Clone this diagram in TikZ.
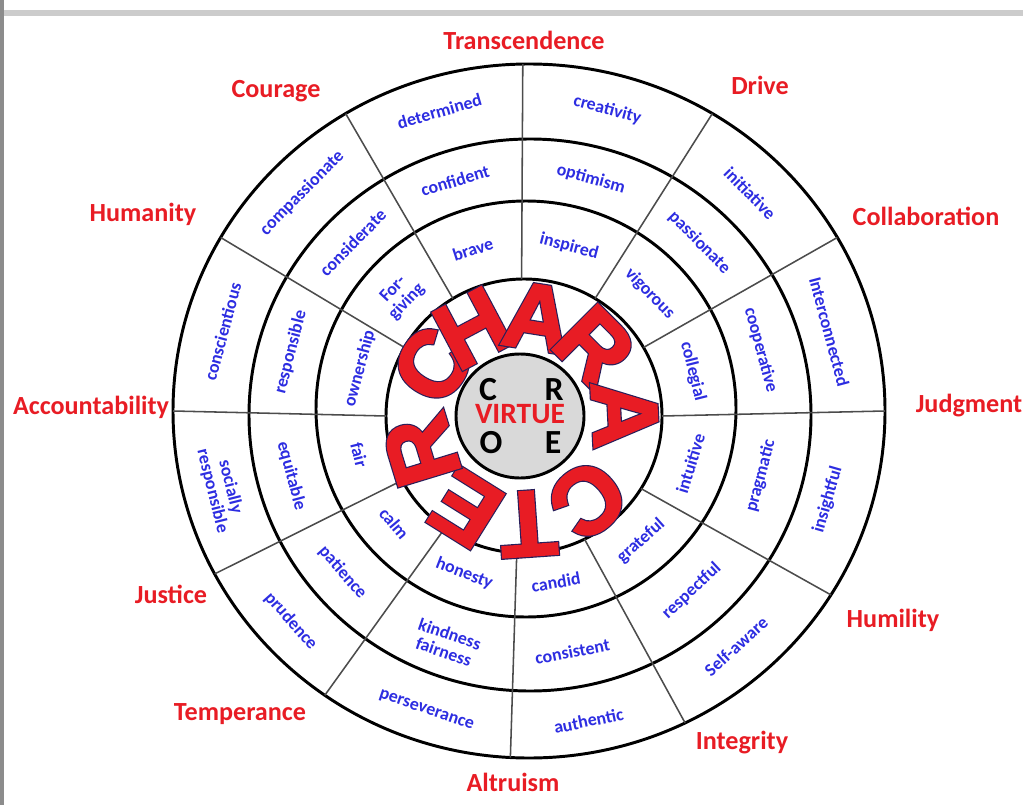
\documentclass[tikz,border=0pt]{standalone}
\usepackage{fontspec}
\setmainfont{Carlito}
\newfontfamily\chred[FakeBold=2.5]{Liberation Sans Bold}
\newfontfamily\chnavy[FakeBold=5]{Liberation Sans Bold}
\usetikzlibrary{calc}
\definecolor{vred}{RGB}{232,28,36}
\definecolor{vblue}{RGB}{45,45,225}
\definecolor{vnavy}{RGB}{40,30,90}
\tikzset{
  ringline/.style={line width=2.1pt},
  divline/.style={line width=1.1pt,draw=black!70},
  virtue/.style={text=vred,font=\fontsize{18.6}{20}\selectfont\bfseries,anchor=base,inner sep=0pt},
  trait/.style={text=vblue,font=\fontsize{12.7}{13.2}\selectfont\bfseries,align=center,inner sep=0pt},
  chletter/.style={font=\fontsize{66}{66}\selectfont\chred,text=vred,inner sep=0pt},
  chshade/.style={font=\fontsize{66}{66}\selectfont\chnavy,text=vnavy,inner sep=0pt},
  core/.style={font=\fontsize{24}{24}\selectfont\bfseries,inner sep=0pt},
}
\begin{document}
\begin{tikzpicture}[x=0.025cm,y=0.025cm]
  \useasboundingbox (0,0) rectangle (1023,805);
  % frame
  \fill[black!45] (0,0) rectangle (4,805);
  \fill[black!20] (4,789) rectangle (1023,795);
  % centres
  \coordinate (o) at (526,392);
  \coordinate (co) at (529,394);
  \coordinate (c2) at (530,390);
  \coordinate (c3) at (526,396);
  \coordinate (cr) at (524,389);
  \coordinate (cg) at (520,389);
  \coordinate (lc) at (521,385);
  % rings
  \draw[ringline] (co) ellipse [x radius=356, y radius=347];
  \draw[ringline] (c2) ellipse [x radius=281, y radius=276];
  \draw[ringline] (c3) ellipse [x radius=210, y radius=208];
  \draw[ringline] (cr) ellipse [x radius=138, y radius=137];
  \draw[ringline,fill=black!15] (cg) ellipse [x radius=64, y radius=62];
  \foreach \a in {0,30,59,91,121,150,180,208,235,267,296,328}
    \draw[divline] ($(cr)+(\a:138 and 137)$) -- ($(co)+(\a:356 and 347)$);
  % outer ring
  \foreach \a/\w [count=\i] in {15/Interconnected,44.5/initiative,75/creativity,106/determined,
      135.5/compassionate,165/conscientious,194/{socially\\responsible},221.5/prudence,
      251.5/perseverance,281.5/authentic,312/Self-aware,344/insightful}{
    \pgfmathsetmacro\rot{ifthenelse(\a<180,\a-90,\a+90)}
    \node[trait,rotate=\rot] (out\i) at ($(o)+(\a:314)$) {\w};
  }
  % middle ring
  \foreach \a/\w [count=\i] in {15/cooperative,44.5/passionate,74.5/optimism,107/confident,
      135.5/considerate,165.5/responsible,195/equitable,221/patience,
      251/{kindness\\fairness},281/consistent,313/respectful,345/pragmatic}{
    \pgfmathsetmacro\rot{ifthenelse(\a<180,\a-90,\a+90)}
    \node[trait,rotate=\rot] (mid\i) at ($(o)+(\a:243)$) {\w};
  }
  % inner ring
  \foreach \a/\w [count=\i] in {14/collegial,44/vigorous,75.5/inspired,108/brave,
      137/{For-\\giving},165/ownership,194/fair,220/calm,
      249/honesty,280/candid,312/grateful,343/intuitive}{
    \pgfmathsetmacro\rot{ifthenelse(\a<180,\a-90,\a+90)}
    \node[trait,rotate=\rot] (inn\i) at ($(o)+(\a:172)$) {\w};
  }
  % CHARACTER
  \foreach \l/\a [count=\i] in {C/148,H/118,A/81,R/45,A/3,C/-50,T/-86,E/-122,R/-163}{
    \node[chshade,rotate=\a-90] at ($(lc)+(\a:104)$) {\l};
    \node[chletter,rotate=\a-90] (ch\i) at ($(lc)+(\a:104)$) {\l};
  }
  % core
  \node[core] (cc) at (488,415) {C};
  \node[core] (cr2) at (554,415) {R};
  \node[core] (co2) at (491,362) {O};
  \node[core] (ce) at (553,362) {E};
  \node[core,text=vred,font=\fontsize{21}{21}\selectfont\bfseries] (virt) at (520,391) {VIRTUE};
  % virtues
  \node[virtue] (transcendence) at (524,755) {Transcendence};
  \node[virtue] (courage) at (276,707) {Courage};
  \node[virtue] (drive) at (760,710) {Drive};
  \node[virtue] (collaboration) at (926,580) {Collaboration};
  \node[virtue] (judgment) at (969,393) {Judgment};
  \node[virtue] (humility) at (893,178) {Humility};
  \node[virtue] (integrity) at (742,56) {Integrity};
  \node[virtue] (altruism) at (513,14) {Altruism};
  \node[virtue] (temperance) at (240,85) {Temperance};
  \node[virtue] (justice) at (171,202) {Justice};
  \node[virtue] (accountability) at (91,391) {Accountability};
  \node[virtue] (humanity) at (143,584) {Humanity};
\end{tikzpicture}
\end{document}
